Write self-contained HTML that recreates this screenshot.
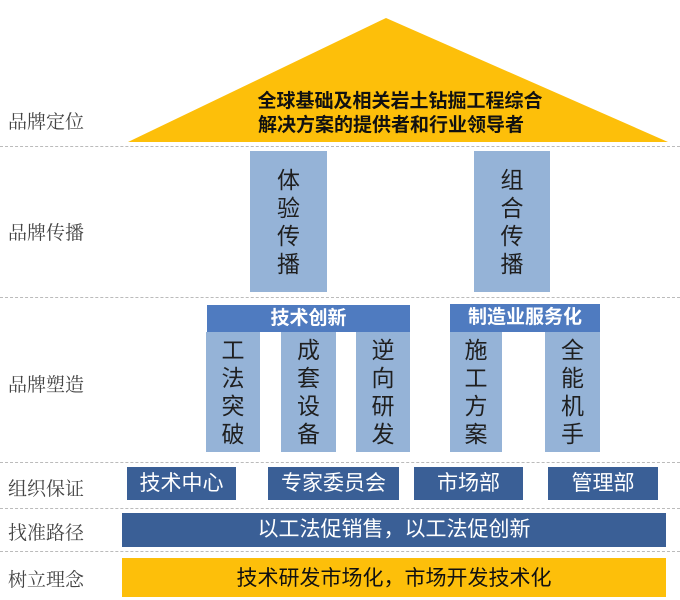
<!DOCTYPE html>
<html><head><meta charset="utf-8"><style>
body{margin:0;width:680px;height:597px;background:#fff;position:relative;overflow:hidden;font-family:"Liberation Sans","Noto Sans CJK SC",sans-serif}
div{position:absolute;box-sizing:border-box}
.lab{left:8px;font-family:"Noto Serif CJK SC",serif;font-size:19px;color:#444}
.dash{left:0;width:680px;border-top:1px dashed #bbb}
.p{background:#95B3D7;color:#1f1f1f;text-align:center;font-size:23px;line-height:28px;display:flex;flex-direction:column;justify-content:center;align-items:center}
.h{background:#4F7BC0;color:#fff;font-weight:bold;font-size:19px;text-align:center;line-height:27px}
.o{background:#3A5F96;color:#fff;font-size:21px;text-align:center;line-height:33px}
</style></head><body>
<svg style="position:absolute;left:0;top:0" width="680" height="597"><polygon points="386,18 128,142 668,142" fill="#FDBF0A"/></svg>
<div style="left:190px;top:90px;width:420px;text-align:center;font-size:19px;line-height:24px;color:#111;font-weight:bold">全球基础及相关岩土钻掘工程综合<br><span style="margin-right:18px">解决方案的提供者和行业领导者</span></div>
<div class="dash" style="top:146px"></div>
<div class="dash" style="top:297px"></div>
<div class="dash" style="top:462px"></div>
<div class="dash" style="top:508px"></div>
<div class="dash" style="top:551px"></div>
<div class="lab" style="top:107px">品牌定位</div>
<div class="lab" style="top:218px">品牌传播</div>
<div class="lab" style="top:370px">品牌塑造</div>
<div class="lab" style="top:474px">组织保证</div>
<div class="lab" style="top:518px">找准路径</div>
<div class="lab" style="top:565px">树立理念</div>
<div class="p" style="left:250px;top:151px;width:77px;height:141px">体<br>验<br>传<br>播</div>
<div class="p" style="left:474px;top:151px;width:76px;height:141px">组<br>合<br>传<br>播</div>
<div class="h" style="left:207px;top:305px;width:203px;height:27px">技术创新</div>
<div class="h" style="left:450px;top:304px;width:150px;height:28px">制造业服务化</div>
<div class="p" style="left:206px;top:332px;width:54px;height:120px">工<br>法<br>突<br>破</div>
<div class="p" style="left:281px;top:332px;width:55px;height:120px">成<br>套<br>设<br>备</div>
<div class="p" style="left:356px;top:332px;width:54px;height:120px">逆<br>向<br>研<br>发</div>
<div class="p" style="left:450px;top:332px;width:52px;height:120px">施<br>工<br>方<br>案</div>
<div class="p" style="left:545px;top:332px;width:55px;height:120px">全<br>能<br>机<br>手</div>
<div class="o" style="left:127px;top:467px;width:109px;height:33px">技术中心</div>
<div class="o" style="left:268px;top:467px;width:131px;height:33px">专家委员会</div>
<div class="o" style="left:414px;top:467px;width:109px;height:33px">市场部</div>
<div class="o" style="left:548px;top:467px;width:110px;height:33px">管理部</div>
<div class="o" style="left:122px;top:513px;width:544px;height:34px;line-height:34px">以工法促销售，以工法促创新</div>
<div style="left:122px;top:558px;width:544px;height:39px;background:#FDBF0A;color:#111;font-size:21px;text-align:center;line-height:42px">技术研发市场化，市场开发技术化</div>
</body></html>
